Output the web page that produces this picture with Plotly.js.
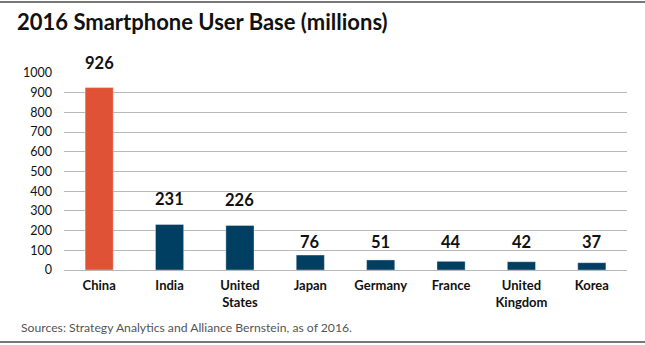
<!DOCTYPE html>
<html><head><meta charset="utf-8">
<script src="https://cdn.plot.ly/plotly-3.0.1.min.js"></script>
<style>html,body{margin:0;padding:0;background:#fff}#c{width:645px;height:345px}</style>
</head><body><div id="c"></div>
<script>
const categories = ["China","India","United<br>States","Japan","Germany","France","United<br>Kingdom","Korea"];
const users = [926,231,226,76,51,44,42,37];
const barColors = ["#E05236","#003F62","#003F62","#003F62","#003F62","#003F62","#003F62","#003F62"];
const yTicks = [0,100,200,300,400,500,600,700,800,900,1000];

const font = "Lato, 'Open Sans', sans-serif";
const trace = {
  type: "bar", x: categories, y: users,
  marker: {color: barColors, line: {color: "rgba(255,255,255,0.35)", width: 1}},
  width: 0.4, hoverinfo: "skip"
};
// value labels sit above the bar; short bars share a common label row
const annotations = categories.map((c,i)=>({
  x: c, y: users[i] > 150 ? users[i] : 142, xref: "x", yref: "y", text: "<b>"+users[i]+"</b>",
  showarrow: false, yanchor: "middle", yshift: users[i] > 150 ? 25 : 0,
  font: {family: font, size: 16.5, color: "#111"}
}));
annotations.push({
  xref: "paper", yref: "paper", x: (19-64)/563, y: -57/197, xanchor: "left", yanchor: "middle",
  text: "Sources: Strategy Analytics and Alliance Bernstein, as of 2016.", showarrow: false,
  font: {family: font, size: 12.2, color: "#555"}
});
const layout = {
  width: 645, height: 345,
  margin: {l: 64, r: 18, t: 73, b: 75},
  paper_bgcolor: "#fff", plot_bgcolor: "#fff",
  title: {text: "<b>2016 Smartphone User Base (millions)</b>", x: 17/645, xanchor: "left", y: 1-22/345, yanchor: "middle",
    font: {family: font, size: 22, color: "#111"}},
  showlegend: false,
  xaxis: {type: "category", tickfont: {family: font, size: 13, color: "#111", weight: "bold"},
    showgrid: false, showline: false, ticks: "", ticklabelstandoff: 6, fixedrange: true},
  yaxis: {range: [0, 1000], tickvals: yTicks, ticktext: yTicks.map(String),
    tickfont: {family: font, size: 12.5, color: "#111"}, gridcolor: "#b8b8b8", gridwidth: 1,
    zeroline: true, zerolinecolor: "#b8b8b8", showline: false, ticks: "", ticklabelstandoff: 11, fixedrange: true},
  annotations: annotations,
  shapes: [
    {type: "line", xref: "paper", yref: "paper", x0: -64/563, x1: 1+18/563, y0: 1+71/197, y1: 1+71/197,
      line: {color: "#777", width: 2}},
    {type: "line", xref: "paper", yref: "paper", x0: -64/563, x1: 1+18/563, y0: -72/197, y1: -72/197,
      line: {color: "#777", width: 2}}
  ]
};
Plotly.newPlot("c", [trace], layout, {displayModeBar: false, staticPlot: true});
</script></body></html>
